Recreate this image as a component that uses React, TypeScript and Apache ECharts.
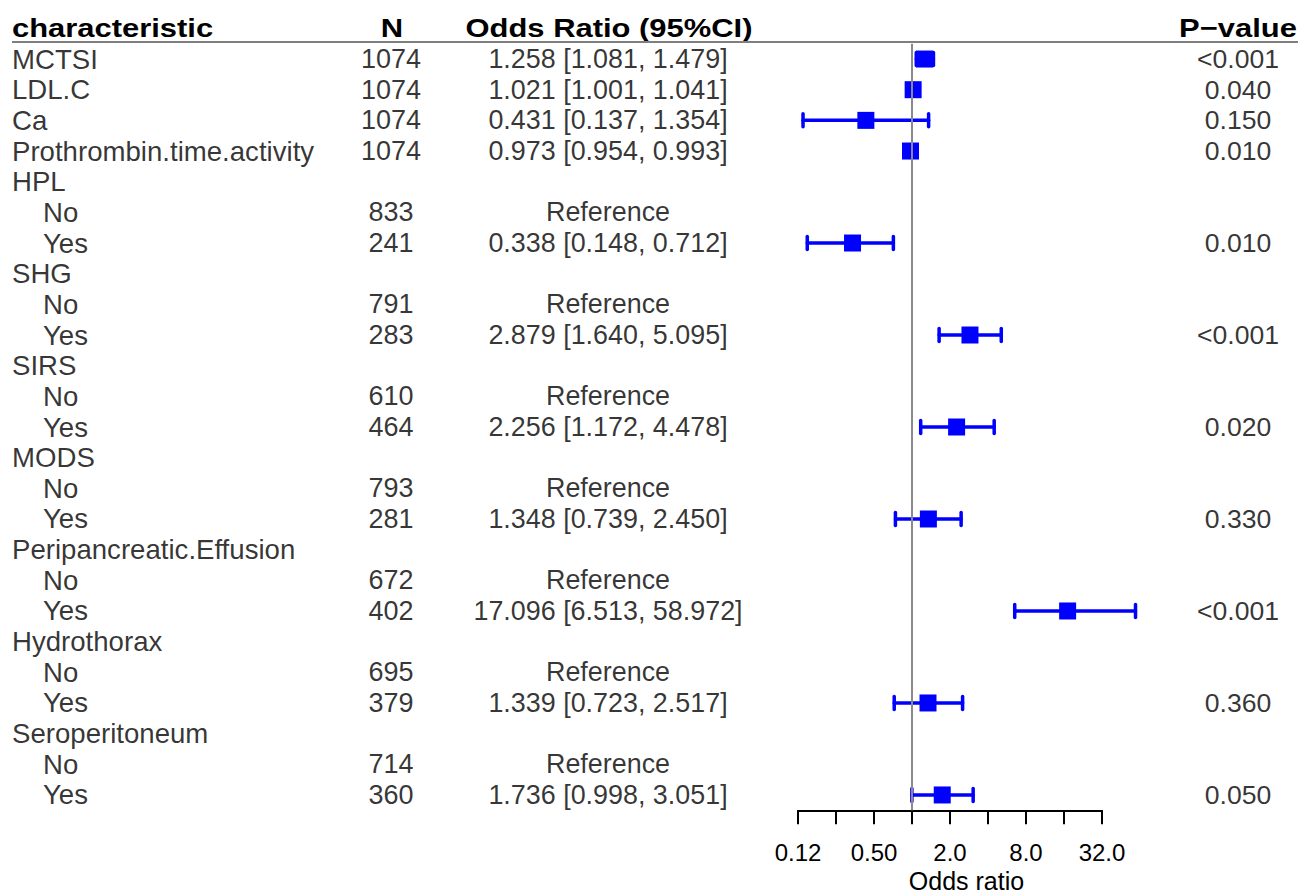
import React, { useEffect, useRef } from "react";
import * as echarts from "echarts";

// ---------------- data ----------------
const characteristic = [
  "MCTSI", "LDL.C", "Ca", "Prothrombin.time.activity",
  "HPL", "No", "Yes",
  "SHG", "No", "Yes",
  "SIRS", "No", "Yes",
  "MODS", "No", "Yes",
  "Peripancreatic.Effusion", "No", "Yes",
  "Hydrothorax", "No", "Yes",
  "Seroperitoneum", "No", "Yes",
];
const level = [0, 0, 0, 0, 0, 1, 1, 0, 1, 1, 0, 1, 1, 0, 1, 1, 0, 1, 1, 0, 1, 1, 0, 1, 1];
const nValues: (number | null)[] = [
  1074, 1074, 1074, 1074,
  null, 833, 241,
  null, 791, 283,
  null, 610, 464,
  null, 793, 281,
  null, 672, 402,
  null, 695, 379,
  null, 714, 360,
];
const orValues: (number | null)[] = [
  1.258, 1.021, 0.431, 0.973,
  null, null, 0.338,
  null, null, 2.879,
  null, null, 2.256,
  null, null, 1.348,
  null, null, 17.096,
  null, null, 1.339,
  null, null, 1.736,
];
const ciLower: (number | null)[] = [
  1.081, 1.001, 0.137, 0.954,
  null, null, 0.148,
  null, null, 1.64,
  null, null, 1.172,
  null, null, 0.739,
  null, null, 6.513,
  null, null, 0.723,
  null, null, 0.998,
];
const ciUpper: (number | null)[] = [
  1.479, 1.041, 1.354, 0.993,
  null, null, 0.712,
  null, null, 5.095,
  null, null, 4.478,
  null, null, 2.45,
  null, null, 58.972,
  null, null, 2.517,
  null, null, 3.051,
];
const pValues = [
  "<0.001", "0.040", "0.150", "0.010",
  "", "", "0.010",
  "", "", "<0.001",
  "", "", "0.020",
  "", "", "0.330",
  "", "", "<0.001",
  "", "", "0.360",
  "", "", "0.050",
];
const headers = ["characteristic", "N", "Odds Ratio (95%CI)", "P\u2212value"];
const tickValues = [0.125, 0.25, 0.5, 1, 2, 4, 8, 16, 32];
const tickLabels = ["0.12", "", "0.50", "", "2.0", "", "8.0", "", "32.0"];
const referenceValue = 1;
const axisTitle = "Odds ratio";

// ---------------- layout ----------------
const FONT = '"Liberation Sans", Arial, Helvetica, sans-serif';
const W = 1299;
const H = 896;
const GRID_TOP = 43.7;
const GRID_H = 766.6;
const COL_CHAR = 12;
const COL_INDENT = 43;
const COL_N = 391;
const COL_OR = 608;
const COL_P = 1238;
const BLUE = "#0000ff";

export default function App() {
  const ref = useRef<HTMLDivElement>(null);

  useEffect(() => {
    document.body.style.margin = "0";
    const chart = echarts.init(ref.current!, null, { renderer: "svg" });
    const rows = characteristic.map((_, i) => String(i));

    const orText = (i: number) =>
      orValues[i] == null
        ? "Reference"
        : `${(orValues[i] as number).toFixed(3)} [${(ciLower[i] as number).toFixed(3)}, ${(ciUpper[i] as number).toFixed(3)}]`;

    const charData = characteristic.map((c, i) => [level[i] ? COL_INDENT : COL_CHAR, i, c]);
    const nData = nValues
      .map((n, i) => (n == null ? null : [COL_N, i, String(n)]))
      .filter(Boolean);
    const orData = nValues
      .map((n, i) => (n == null ? null : [COL_OR, i, orText(i)]))
      .filter(Boolean);
    const pData = pValues
      .map((p, i) => (p ? [COL_P, i, p] : null))
      .filter(Boolean);
    const pointData = orValues
      .map((v, i) => (v == null ? null : [v, i]))
      .filter(Boolean);
    const ciData = orValues
      .map((v, i) => (v == null ? null : [ciLower[i], i, ciUpper[i]]))
      .filter(Boolean);

    const textSeries = (data: any[], align: "left" | "center", size: number) => ({
      type: "scatter",
      xAxisIndex: 0,
      yAxisIndex: 0,
      data,
      symbolSize: 0,
      silent: true,
      clip: false,
      label: {
        show: true,
        position: align === "left" ? "right" : "inside",
        distance: 0,
        formatter: (p: any) => p.value[2],
        color: "#000",
        fontSize: size,
        fontFamily: FONT,
        align,
        verticalAlign: "middle",
      },
      encode: { x: 0, y: 1 },
    });

    const headerStyle = (text: string, align: string) => ({
      text,
      fontSize: 26,
      fontWeight: "bold",
      fontFamily: FONT,
      fill: "#000",
      align,
      verticalAlign: "middle",
    });

    const option: any = {
      animation: false,
      backgroundColor: "#fff",
      grid: [
        { left: 0, top: GRID_TOP, width: W, height: GRID_H, outerBoundsMode: "none", containLabel: false },
        { left: 798, top: GRID_TOP, width: 304, height: GRID_H, outerBoundsMode: "none", containLabel: false },
      ],
      xAxis: [
        { type: "value", gridIndex: 0, min: 0, max: W, show: false },
        {
          type: "log",
          gridIndex: 1,
          logBase: 2,
          min: 0.125,
          max: 32,
          splitNumber: 8,
          axisLine: { show: true, lineStyle: { color: "#000", width: 2 } },
          axisTick: { show: true, length: 14, lineStyle: { color: "#000", width: 2 } },
          splitLine: { show: false },
          minorTick: { show: false },
          axisLabel: {
            margin: 30,
            fontSize: 24,
            color: "#000",
            fontFamily: FONT,
            hideOverlap: false,
            showMinLabel: true,
            showMaxLabel: true,
            formatter: (v: number) => {
              const idx = tickValues.findIndex(
                (t) => Math.abs(Math.log2(t) - Math.log2(v)) < 1e-6
              );
              return idx >= 0 ? tickLabels[idx] : "";
            },
          },
          name: axisTitle,
          nameLocation: "middle",
          nameGap: 58,
          nameMoveOverlap: false,
          nameTextStyle: {
            fontSize: 25,
            color: "#000",
            fontFamily: FONT,
            padding: [0, 0, 0, 33],
          },
        },
      ],
      yAxis: [
        { type: "category", gridIndex: 0, data: rows, inverse: true, show: false },
        { type: "category", gridIndex: 1, data: rows, inverse: true, show: false },
      ],
      graphic: [
        {
          type: "line",
          shape: { x1: 12, y1: 42, x2: 1298, y2: 42 },
          style: { stroke: "#7f7f7f", lineWidth: 2 },
          z: 1,
        },
        { type: "text", x: 12, y: 28, scaleX: 1.19, style: headerStyle(headers[0], "left") },
        { type: "text", x: 392, y: 28, scaleX: 1.19, style: headerStyle(headers[1], "center") },
        { type: "text", x: 609, y: 28, scaleX: 1.19, style: headerStyle(headers[2], "center") },
        { type: "text", x: 1238, y: 28, scaleX: 1.19, style: headerStyle(headers[3], "center") },
      ],
      series: [
        textSeries(charData, "left", 27.6),
        textSeries(nData, "center", 27),
        textSeries(orData, "center", 26.9),
        textSeries(pData, "center", 26.6),
        {
          type: "scatter",
          xAxisIndex: 1,
          yAxisIndex: 1,
          data: [],
          silent: true,
          z: 1,
          markLine: {
            silent: true,
            symbol: "none",
            label: { show: false },
            lineStyle: { color: "#8a8a8a", width: 2, type: "solid" },
            data: [{ xAxis: referenceValue }],
          },
        },
        {
          type: "custom",
          xAxisIndex: 1,
          yAxisIndex: 1,
          data: ciData,
          encode: { x: [0, 2], y: 1 },
          silent: true,
          clip: false,
          z: 2,
          renderItem: (params: any, api: any) => {
            const row = api.value(1);
            const p0 = api.coord([api.value(0), row]);
            const p1 = api.coord([api.value(2), row]);
            const cap = 6.5;
            const style = { stroke: BLUE, lineWidth: 3.5, lineCap: "round" };
            return {
              type: "group",
              children: [
                { type: "line", shape: { x1: p0[0], y1: p0[1], x2: p1[0], y2: p1[1] }, style },
                { type: "line", shape: { x1: p0[0], y1: p0[1] - cap, x2: p0[0], y2: p0[1] + cap }, style },
                { type: "line", shape: { x1: p1[0], y1: p1[1] - cap, x2: p1[0], y2: p1[1] + cap }, style },
              ],
            };
          },
        },
        {
          type: "scatter",
          xAxisIndex: 1,
          yAxisIndex: 1,
          data: pointData,
          symbol: "rect",
          symbolSize: 17,
          silent: true,
          clip: false,
          z: 3,
          itemStyle: { color: BLUE, opacity: 1 },
        },
      ],
    };

    chart.setOption(option);
    return () => chart.dispose();
  }, []);

  return (
    <div
      ref={ref}
      style={{ position: "absolute", left: 0, top: 0, width: W, height: H }}
    />
  );
}
